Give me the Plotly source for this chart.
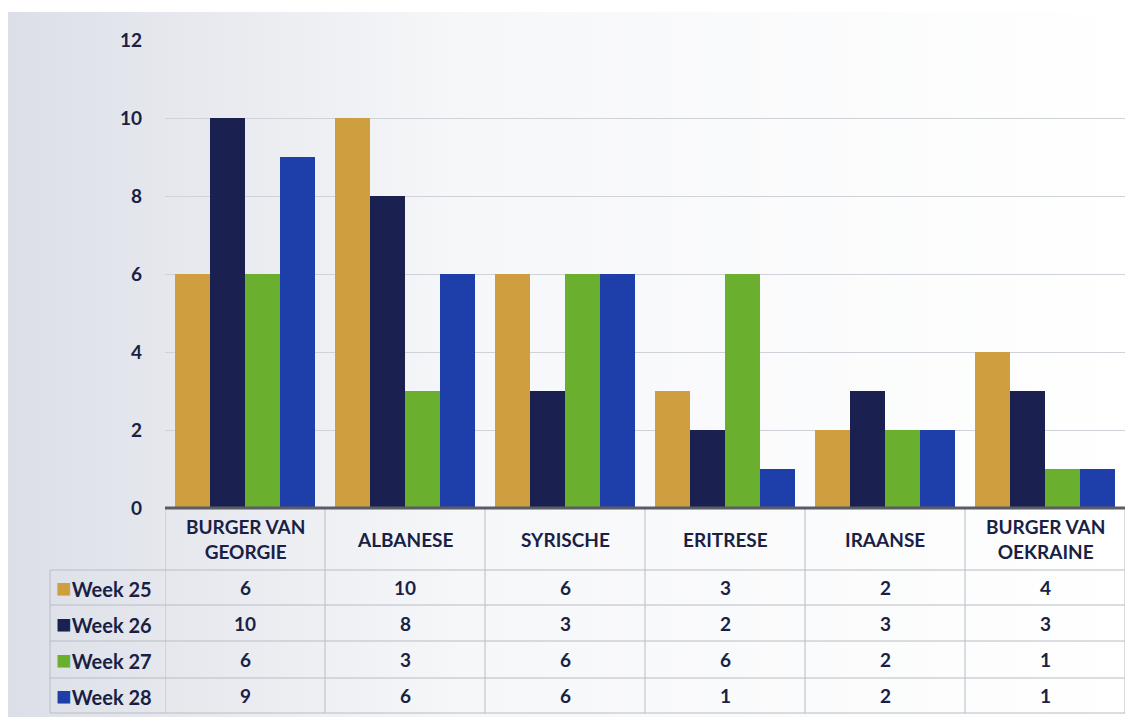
import plotly.graph_objects as go

categories = ["BURGER VAN<br>GEORGIE", "ALBANESE", "SYRISCHE", "ERITRESE", "IRAANSE", "BURGER VAN<br>OEKRAINE"]
series_names = ["Week 25", "Week 26", "Week 27", "Week 28"]
week25 = [6, 10, 6, 3, 2, 4]
week26 = [10, 8, 3, 2, 3, 3]
week27 = [6, 3, 6, 6, 2, 1]
week28 = [9, 6, 6, 1, 2, 1]
y_ticks = [0, 2, 4, 6, 8, 10, 12]

colors = ["#CF9E3E", "#1A2151", "#6BAF2F", "#1E3EAA"]
series = [week25, week26, week27, week28]
TXT = "#1A1F45"
FONT = "Lato, 'Open Sans', sans-serif"

OFF = 8  # page body margin
W, H = 1134, 717
L, R, T, B = 165 - OFF, 9 + OFF, 40 - OFF, 209 + OFF
ph = H - T - B
pw = W - L - R

def py(screen_y):
    return (H - B - (screen_y - OFF)) / ph

def px(screen_x):
    return ((screen_x - OFF) - L) / pw

fig = go.Figure()
xs = list(range(len(categories)))
for name, vals, c in zip(series_names, series, colors):
    fig.add_trace(go.Bar(x=xs, y=vals, name=name, marker=dict(color=c, line=dict(width=0)),
                         showlegend=False))

annotations = []
shapes = []
bold = dict(family=FONT, size=19, color=TXT, weight="bold")

for i, cat in enumerate(categories):
    annotations.append(dict(x=i, y=py(539), xref="x", yref="paper", text=cat, showarrow=False,
                            font=bold, xanchor="center", yanchor="middle"))

row_centers = [587, 623, 659, 695]
row_lines = [570, 605, 641, 678, 713]
for r, (name, vals, c) in enumerate(zip(series_names, series, colors)):
    annotations.append(dict(x=px(54), y=py(row_centers[r]), xref="paper", yref="paper",
                            text=f"<span style='color:{c};font-size:26px'>■</span>{name}", showarrow=False,
                            font=dict(family=FONT, size=20, color=TXT, weight="bold"),
                            xanchor="left", yanchor="middle"))
    for i, v in enumerate(vals):
        annotations.append(dict(x=i, y=py(row_centers[r]), xref="x", yref="paper", text=str(v),
                                showarrow=False, font=bold, xanchor="center", yanchor="middle"))

line_col = "#b8bcc4"
for yl in row_lines:
    shapes.append(dict(type="line", xref="paper", yref="paper", x0=px(50), x1=1, y0=py(yl), y1=py(yl),
                       line=dict(color=line_col, width=1)))
for b in [i - 0.5 for i in range(len(categories) + 1)]:
    shapes.append(dict(type="line", xref="x", yref="paper", x0=b, x1=b, y0=0, y1=py(713),
                       line=dict(color=line_col, width=1)))
shapes.append(dict(type="line", xref="paper", yref="paper", x0=px(50), x1=px(50), y0=py(570), y1=py(713),
                   line=dict(color=line_col, width=1)))
shapes.append(dict(type="line", xref="paper", yref="paper", x0=0, x1=1, y0=0, y1=0,
                   line=dict(color="#5a5d66", width=3)))

svg = ("data:image/svg+xml;utf8,<svg xmlns='http://www.w3.org/2000/svg' width='100' height='100' preserveAspectRatio='none'>"
       "<defs><linearGradient id='g' x1='0' y1='0' x2='1' y2='0'>"
       "<stop offset='0' stop-color='%23dcdfe7'/><stop offset='0.4' stop-color='%23f6f7f9'/>"
       "<stop offset='1' stop-color='%23ffffff'/></linearGradient></defs>"
       "<rect width='100' height='100' fill='url(%23g)'/></svg>")

fig.update_layout(
    width=W, height=H,
    margin=dict(l=L, r=R, t=T, b=B),
    paper_bgcolor="white",
    plot_bgcolor="rgba(0,0,0,0)",
    barmode="group", bargap=0.125, bargroupgap=0,
    font=dict(family=FONT, color=TXT),
    xaxis=dict(range=[-0.5, 5.5], showticklabels=False, showgrid=False, zeroline=False, showline=False,
               fixedrange=True),
    yaxis=dict(range=[0, 12], tickvals=y_ticks, showgrid=True, gridcolor="#cfd2d8", gridwidth=1,
               zeroline=False, showline=False, ticks="", ticklabelstandoff=22,
               tickfont=dict(family=FONT, size=19, color=TXT, weight="bold")),
    annotations=annotations,
    shapes=shapes,
    images=[dict(source=svg, xref="paper", yref="paper", x=px(8), y=py(12),
                 sizex=px(W + OFF) - px(8), sizey=py(12) - py(H + OFF), sizing="stretch",
                 xanchor="left", yanchor="top", layer="below")],
)

fig.write_html("out.html")
